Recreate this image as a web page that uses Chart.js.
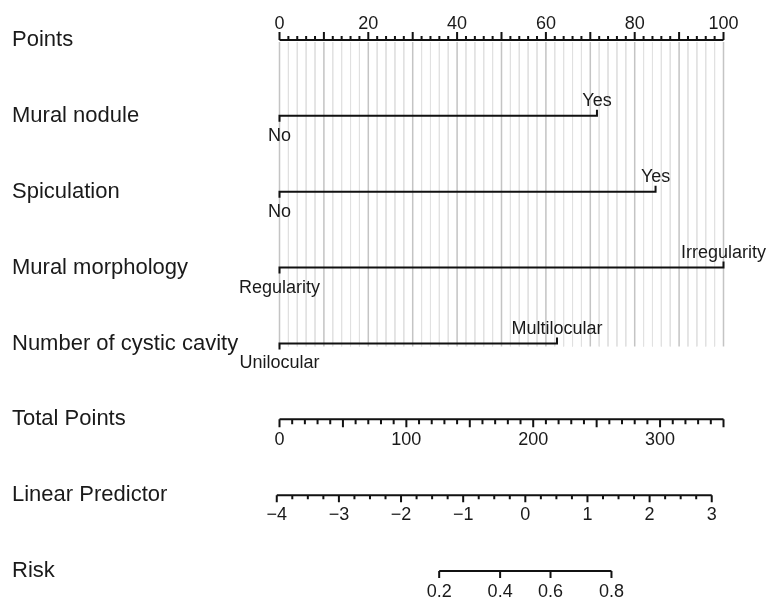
<!DOCTYPE html>
<html>
<head>
<meta charset="utf-8">
<title>Nomogram</title>
<script src="https://cdn.jsdelivr.net/npm/chart.js@4.4.1/dist/chart.umd.min.js"></script>
<style>
  html, body { margin: 0; padding: 0; background: #fff; }
  #wrap { width: 768px; height: 601px; }
</style>
</head>
<body>
<div id="wrap"><canvas id="nomogram"></canvas></div>
<script>
// row titles, top to bottom
const rowTitles = ["Points", "Mural nodule", "Spiculation", "Mural morphology",
  "Number of cystic cavity", "Total Points", "Linear Predictor", "Risk"];

// predictors: label at 0 points, label at the other end, points of that end
const lowLabels = ["No", "No", "Regularity", "Unilocular"];
const highLabels = ["Yes", "Yes", "Irregularity", "Multilocular"];
const highPoints = [71.5, 84.7, 100, 62.5];

// tick labels of the scales
const pointTicks = [0, 20, 40, 60, 80, 100];
const totalTicks = [0, 100, 200, 300];
const lpTicks = [-4, -3, -2, -1, 0, 1, 2, 3];
const riskTicks = [0.2, 0.4, 0.6, 0.8];

// ranges
const pointsMax = 100;
const totalMax = 350;
const lpRange = [-4, 3];

// linear predictor = lpIntercept + lpSlope * total points
const lpIntercept = -3.956;
const lpSlope = 0.020415;

// layout / style
const ROW_PX = 75.86;
const PLOT_TOP = 40;
const X_MIN = -2, X_MAX = 102;
const INK = "#1a1a1a";
const TICK_FONT = 18;
const px = n => n / ROW_PX; // pixels -> row units

Chart.defaults.font.family = '"Liberation Sans", Arial, sans-serif';
Chart.defaults.color = INK;

const logit = p => Math.log(p / (1 - p));
const tpMin = X_MIN * totalMax / pointsMax;
const tpMax = X_MAX * totalMax / pointsMax;

// list of segments -> line data with null breaks
function segs(list) {
  const out = [];
  list.forEach(s => {
    out.push({ x: s[0], y: s[1] }, { x: s[2], y: s[3] }, { x: s[2], y: null });
  });
  return out;
}

function lineSet(data, xAxisID, extra) {
  return Object.assign({
    type: "line",
    data: data,
    xAxisID: xAxisID,
    yAxisID: "y",
    borderColor: "#111",
    borderWidth: 2,
    pointRadius: 0,
    fill: false,
    spanGaps: false,
    clip: false,
    order: 1
  }, extra || {});
}

// grid lines behind the predictor rows
const gridMinor = [], gridMajor = [];
for (let v = 0; v <= pointsMax; v += 2) {
  const s = [v, px(2), v, 4 + px(3)];
  if (v % 10 === 0) gridMajor.push(s); else gridMinor.push(s);
}

// points axis (ticks point up)
const pointsAxis = [[0, 0, pointsMax, 0]];
for (let v = 0; v <= pointsMax; v += 2) {
  pointsAxis.push([v, 0, v, -px(v % 10 === 0 ? 8 : 4)]);
}

// total points axis (ticks point down)
const totalAxis = [[0, 5, totalMax, 5]];
for (let v = 0; v <= totalMax; v += 10) {
  totalAxis.push([v, 5, v, 5 + px(v % 50 === 0 ? 8 : 5)]);
}

// linear predictor axis
const lpAxis = [[lpRange[0], 6, lpRange[1], 6]];
for (let k = 0; k <= (lpRange[1] - lpRange[0]) * 4; k++) {
  const v = lpRange[0] + k / 4;
  lpAxis.push([v, 6, v, 6 + px(k % 4 === 0 ? 7 : 4)]);
}

// risk axis
const riskAxis = [[logit(riskTicks[0]), 7, logit(riskTicks[riskTicks.length - 1]), 7]];
riskTicks.forEach(r => riskAxis.push([logit(r), 7, logit(r), 7 + px(7)]));

const datasets = [
  lineSet(segs(gridMinor), "x", { borderColor: "#e1e1e1", borderWidth: 1, order: 3 }),
  lineSet(segs(gridMajor), "x", { borderColor: "#c4c4c4", borderWidth: 1.5, order: 2 }),
  lineSet(segs(pointsAxis), "x"),
  lineSet(segs(totalAxis), "tp"),
  lineSet(segs(lpAxis), "lp"),
  lineSet(segs(riskAxis), "risk")
];
highPoints.forEach((p, i) => {
  const row = i + 1;
  datasets.push(lineSet([
    { x: 0, y: row + px(6) }, { x: 0, y: row },
    { x: p, y: row }, { x: p, y: row - px(6) }
  ], "x"));
});

const categoryLabels = {
  id: "categoryLabels",
  afterDatasetsDraw(chart) {
    const { ctx, scales: { x, y } } = chart;
    ctx.save();
    ctx.font = '18px "Liberation Sans", Arial, sans-serif';
    ctx.fillStyle = INK;
    ctx.textAlign = "center";
    ctx.textBaseline = "alphabetic";
    highPoints.forEach((p, i) => {
      const yy = y.getPixelForValue(i + 1);
      ctx.fillText(lowLabels[i], x.getPixelForValue(0), yy + 25);
      ctx.fillText(highLabels[i], x.getPixelForValue(p), yy - 9.5);
    });
    ctx.restore();
  }
};

function bottomAxis(row, min, max, values, label, pad) {
  return {
    type: "linear",
    axis: "x",
    position: { y: row },
    min: min,
    max: max,
    grid: { display: false, drawTicks: false },
    border: { display: false },
    afterBuildTicks: s => { s.ticks = values.map(v => ({ value: v })); },
    ticks: { autoSkip: false, maxRotation: 0, padding: pad, font: { size: TICK_FONT }, callback: label }
  };
}

const minus = v => (v < 0 ? "\u2212" + Math.abs(v) : String(v));

new Chart(document.getElementById("nomogram"), {
  type: "line",
  data: { datasets: datasets },
  options: {
    responsive: true,
    maintainAspectRatio: false,
    animation: false,
    events: [],
    layout: { padding: { left: 12, right: 35.62, top: 0, bottom: 0 } },
    plugins: { legend: { display: false }, tooltip: { enabled: false } },
    scales: {
      x: {
        type: "linear",
        position: "top",
        min: X_MIN,
        max: X_MAX,
        grid: { display: false, drawTicks: false },
        border: { display: false },
        afterBuildTicks: s => { s.ticks = pointTicks.map(v => ({ value: v })); },
        afterFit: s => { s.height = PLOT_TOP; },
        ticks: { autoSkip: false, maxRotation: 0, padding: 5, font: { size: TICK_FONT }, callback: v => String(v) }
      },
      y: {
        type: "linear",
        position: "left",
        reverse: true,
        min: 0,
        max: (601 - PLOT_TOP) / ROW_PX,
        grid: { display: false, drawTicks: false },
        border: { display: false },
        afterBuildTicks: s => { s.ticks = rowTitles.map((t, i) => ({ value: i })); },
        afterFit: s => { s.width = 258.62; s.paddingTop = 0; s.paddingBottom = 0; },
        ticks: { autoSkip: false, crossAlign: "far", font: { size: 22 }, callback: (v, i) => rowTitles[i] }
      },
      tp: bottomAxis(5, tpMin, tpMax, totalTicks, v => String(v), 9.5),
      lp: bottomAxis(6, lpIntercept + lpSlope * tpMin, lpIntercept + lpSlope * tpMax,
        lpTicks, minus, 9.5),
      risk: bottomAxis(7, lpIntercept + lpSlope * tpMin, lpIntercept + lpSlope * tpMax,
        riskTicks.map(logit), (v, i) => riskTicks[i].toFixed(1), 10)
    }
  },
  plugins: [categoryLabels]
});
</script>
</body>
</html>
